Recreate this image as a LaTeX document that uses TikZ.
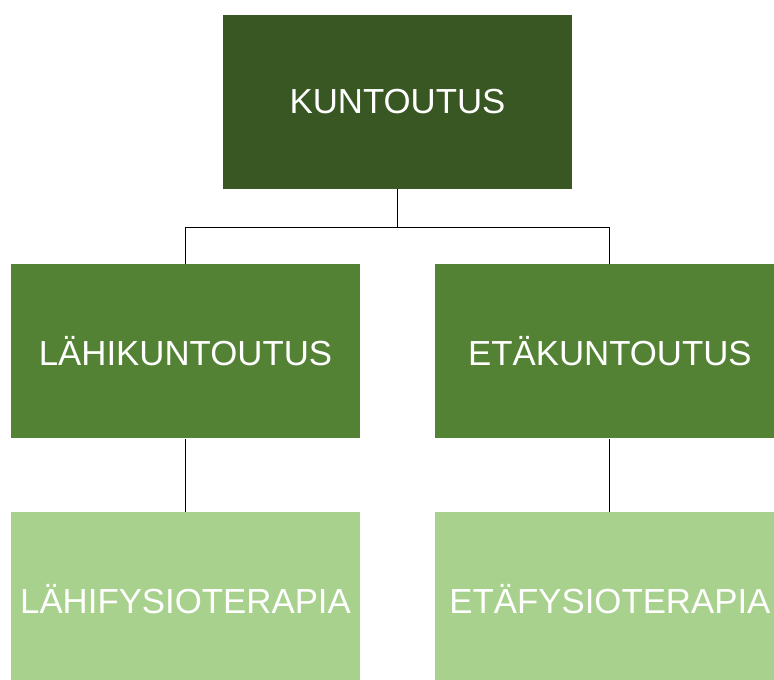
\documentclass[tikz,border=0pt]{standalone}
\usepackage{fontspec}
\setmainfont{Liberation Sans}
\usetikzlibrary{positioning}

\definecolor{greendark}{HTML}{385723}
\definecolor{greenmid}{HTML}{548235}
\definecolor{greenlight}{HTML}{A9D18E}

\begin{document}
\begin{tikzpicture}[
  x=1pt, y=1pt,
  node distance=75pt,
  box/.style={rectangle, minimum width=349pt, minimum height=174pt, inner sep=0pt,
    text=white, font=\fontsize{34.8}{40}\selectfont},
  lvlone/.style={box, fill=greendark},
  lvltwo/.style={box, fill=greenmid},
  lvlthree/.style={box, fill=greenlight},
  link/.style={draw=black, line width=1pt},
]
  \clip (0,0) rectangle (774,-680);

  \node[lvlone] (kuntoutus) at (397.5,-102) {KUNTOUTUS};

  \node[lvltwo] (lahi) [below=of kuntoutus, xshift=-212pt] {LÄHIKUNTOUTUS};
  \node[lvltwo] (eta) [right=of lahi] {ETÄKUNTOUTUS};

  \node[lvlthree] (lahifys) [below=73pt of lahi] {LÄHIFYSIOTERAPIA};
  \node[lvlthree] (etafys) [below=73pt of eta] {ETÄFYSIOTERAPIA};

  \coordinate (split) at ([yshift=-38pt]kuntoutus.south);
  \draw[link] (kuntoutus.south) -- (split) -| (lahi.north);
  \draw[link] (split) -| (eta.north);
  \draw[link] (lahi.south) -- (lahifys.north);
  \draw[link] (eta.south) -- (etafys.north);
\end{tikzpicture}
\end{document}
